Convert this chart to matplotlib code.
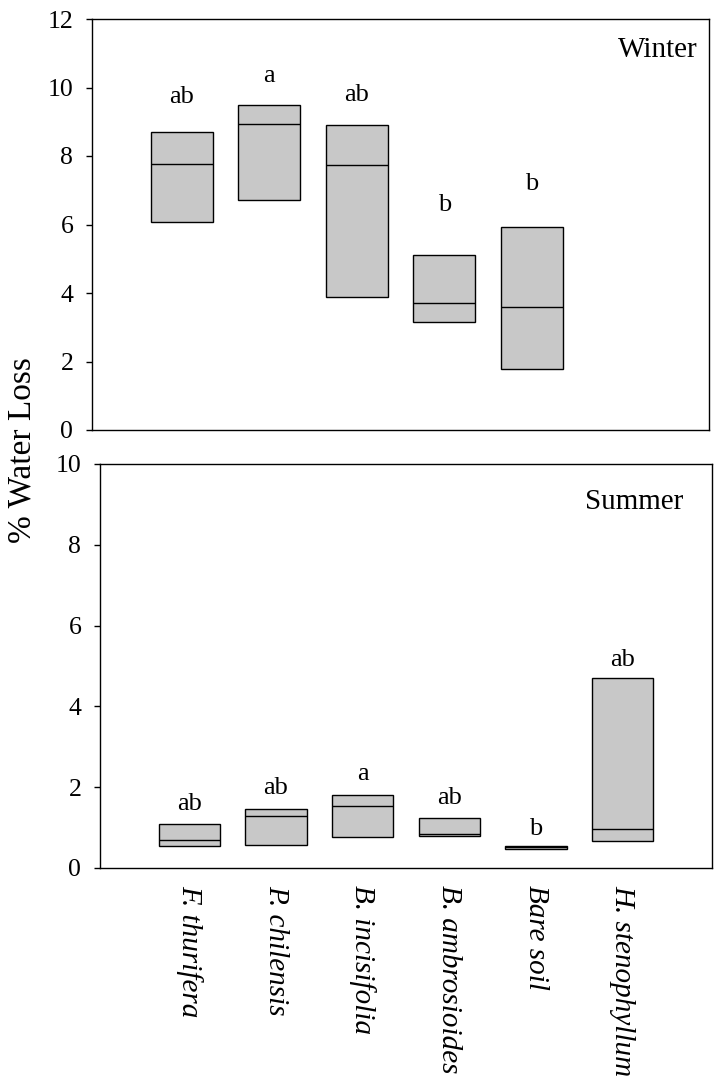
import matplotlib
matplotlib.use("Agg")
import matplotlib.pyplot as plt

plt.rcParams['font.family'] = ['Liberation Serif', 'DejaVu Serif']

categories = ["F. thurifera", "P. chilensis", "B. incisifolia",
              "B. ambrosioides", "Bare soil", "H. stenophyllum"]

# Winter (5 groups, no H. stenophyllum)
winter_q1 = [6.06, 6.72, 3.88, 3.14, 1.79]
winter_med = [7.77, 8.93, 7.73, 3.71, 3.59]
winter_q3 = [8.70, 9.48, 8.90, 5.12, 5.93]
winter_letters = ["ab", "a", "ab", "b", "b"]
winter_letter_y = [9.56, 10.15, 9.60, 6.39, 7.02]

# Summer (6 groups)
summer_q1 = [0.55, 0.58, 0.77, 0.78, 0.48, 0.68]
summer_med = [0.69, 1.29, 1.53, 0.84, 0.51, 0.97]
summer_q3 = [1.09, 1.47, 1.81, 1.24, 0.54, 4.70]
summer_letters = ["ab", "ab", "a", "ab", "b", "ab"]
summer_letter_y = [1.44, 1.82, 2.17, 1.58, 0.81, 5.01]

W, H = 727, 1083
fig = plt.figure(figsize=(W / 100, H / 100), dpi=100)

def axes_px(left, right, top, bottom):
    return fig.add_axes([left / W, 1 - bottom / H, (right - left) / W, (bottom - top) / H])

ax1 = axes_px(92, 709, 19, 430)
ax2 = axes_px(100, 712, 464, 868)

box_w = 0.71
fill = '#c8c8c8'

def draw(ax, q1, med, q3, letters, ly, ylim, yticks, title, tpos):
    n = len(q1)
    x = list(range(1, n + 1))
    heights = [b - a for a, b in zip(q1, q3)]
    ax.bar(x, heights, bottom=q1, width=box_w, color=fill,
           edgecolor='black', linewidth=1.0, zorder=2)
    ax.hlines(med, [xi - box_w / 2 for xi in x], [xi + box_w / 2 for xi in x],
              colors='black', linewidth=1.0, zorder=3)
    for xi, lab, yy in zip(x, letters, ly):
        ax.text(xi, yy, lab, ha='center', va='baseline', fontsize=19)
    ax.set_xlim(-0.03, 7.03)
    ax.set_ylim(*ylim)
    ax.set_yticks(yticks)
    ax.tick_params(axis='y', direction='out', length=4.5, width=1, pad=9,
                   labelsize=18.5)
    for s in ax.spines.values():
        s.set_linewidth(1.0)
    ax.text(tpos[0], tpos[1], title, transform=ax.transAxes, ha='right',
            va='top', fontsize=21)

draw(ax1, winter_q1, winter_med, winter_q3, winter_letters, winter_letter_y,
     (0, 12), [0, 2, 4, 6, 8, 10, 12], "Winter", (0.982, 0.956))
ax1.set_xticks([])

draw(ax2, summer_q1, summer_med, summer_q3, summer_letters, summer_letter_y,
     (0, 10), [0, 2, 4, 6, 8, 10], "Summer", (0.953, 0.938))
ax2.set_xticks(range(1, len(categories) + 1))
ax2.set_xticklabels(categories, rotation=-90, fontstyle='italic', fontsize=21)
ax2.tick_params(axis='x', length=0, pad=12)

fig.text(22 / W, 1 - 450 / H, "% Water Loss", rotation=90, ha='center',
         va='center', fontsize=24)

fig.savefig("out.png", dpi=100)
